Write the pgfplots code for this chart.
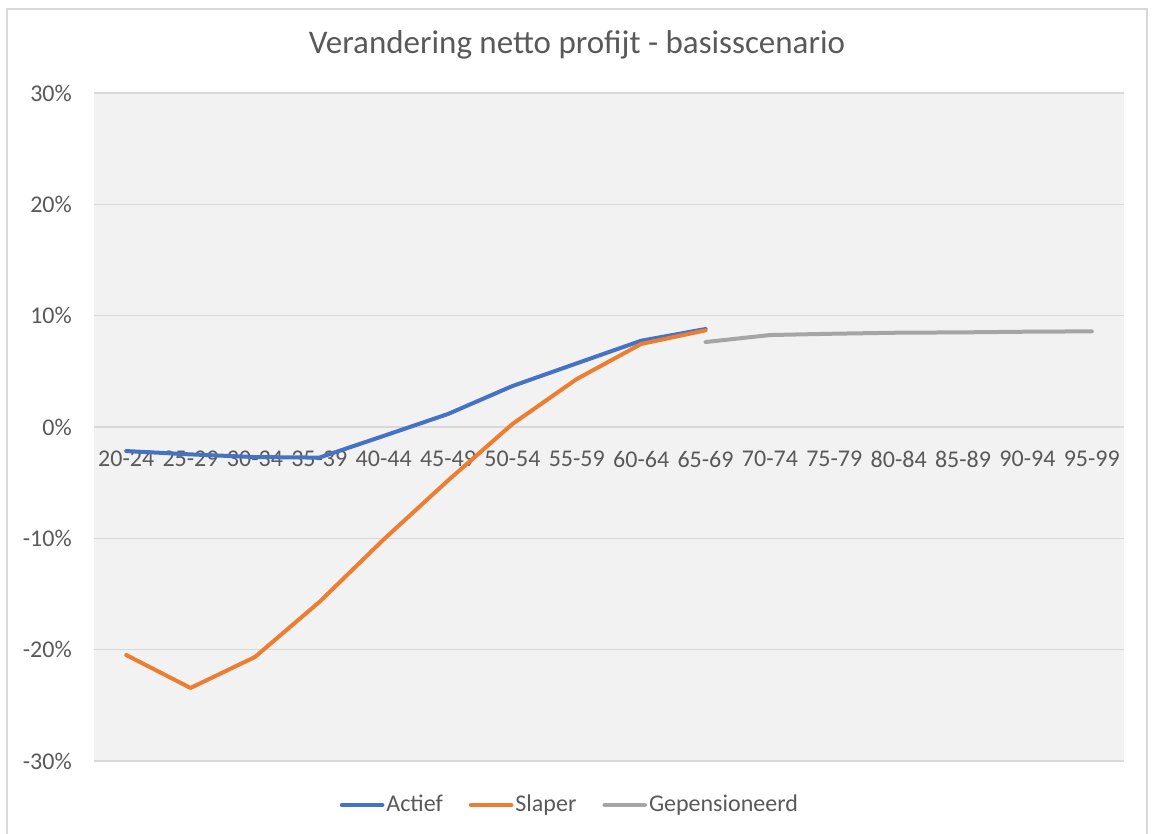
\documentclass[border=0pt]{standalone}
\usepackage{pgfplots}
\pgfplotsset{compat=1.18}
\usepackage{fontspec}
\setmainfont{Carlito}
\definecolor{cblue}{HTML}{4472C4}
\definecolor{corange}{HTML}{ED7D31}
\definecolor{cgray}{HTML}{A5A5A5}
\definecolor{txt}{HTML}{595959}
\definecolor{gridc}{HTML}{D9D9D9}
\definecolor{bgc}{HTML}{F2F2F2}
\definecolor{framec}{HTML}{D9D9D9}
\begin{document}
\begin{tikzpicture}
\path[use as bounding box] (0pt,0pt) rectangle (576.5pt,417pt);
\draw[color=framec, line width=1.2pt] (3.5pt,-5pt) -- (3.5pt,412.5pt) -- (573.5pt,412.5pt) -- (573.5pt,-5pt);
\node[text=txt, font=\fontsize{16.5}{20}\selectfont] at (288.5pt,394.5pt) {Verandering netto profijt - basisscenario};
\begin{axis}[
  at={(47pt,36.5pt)}, anchor=south west,
  scale only axis, width=515pt, height=334pt,
  xmin=-0.5, xmax=15.5, ymin=-30, ymax=30,
  axis x line*=middle, axis y line*=left,
  x axis line style={draw=none}, y axis line style={draw=none},
  axis background/.style={fill=bgc},
  ymajorgrids, major grid style={color=gridc, line width=0.75pt},
  major tick length=0pt,
  xtick={0,...,15},
  xticklabels={20-24,25-29,30-34,35-39,40-44,45-49,50-54,55-59,60-64,65-69,70-74,75-79,80-84,85-89,90-94,95-99},
  ytick={-30,-20,...,30},
  yticklabel={\pgfmathprintnumber{\tick}\%},
  /pgf/number format/assume math mode=true,
  tick label style={text=txt, font=\fontsize{12}{14}\selectfont},
  xticklabel style={yshift=-8.5pt},
  yticklabel style={xshift=-7.6pt},
  legend columns=3,
  legend style={at={(0.462,-0.066)}, anchor=center, draw=none, fill=none,
    font=\fontsize{12}{14}\selectfont, text=txt,
    nodes={inner sep=1pt},
    /tikz/every even column/.append style={column sep=12pt}},
  legend image code/.code={\draw[#1, line width=2.3pt, line cap=round] (0pt,0pt) -- (20pt,0pt);},
  every axis plot/.append style={line width=2pt, line cap=round, line join=round},
]
\addplot[cblue] table {
x y
0 -2.16
1 -2.46
2 -2.7
3 -2.75
4 -0.8
5 1.17
6 3.68
7 5.72
8 7.75
9 8.8
};
\addlegendentry{Actief}
\addplot[corange] table {
x y
0 -20.48
1 -23.44
2 -20.66
3 -15.72
4 -10.1
5 -4.8
6 0.27
7 4.31
8 7.46
9 8.68
};
\addlegendentry{Slaper}
\addplot[cgray] table {
x y
9 7.63
10 8.26
11 8.38
12 8.47
13 8.5
14 8.56
15 8.59
};
\addlegendentry{Gepensioneerd}
\end{axis}
\end{tikzpicture}
\end{document}
